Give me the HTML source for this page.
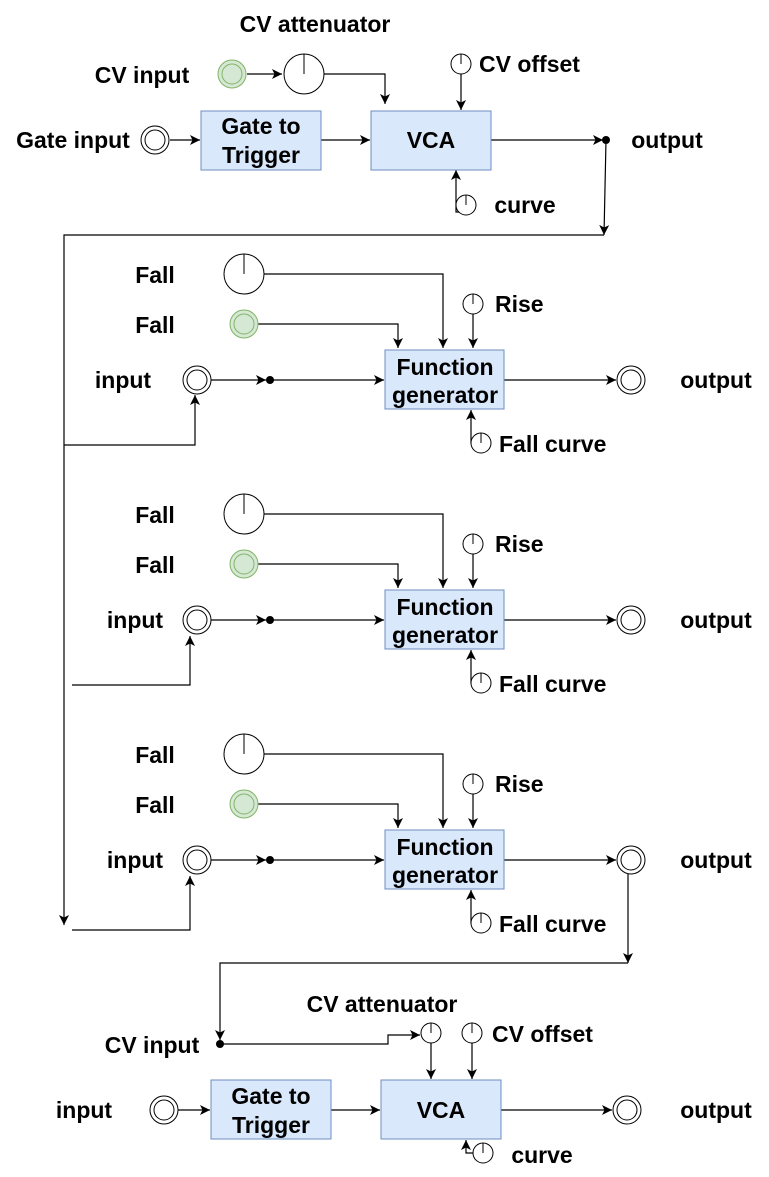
<!DOCTYPE html>
<html><head><meta charset="utf-8"><style>
html,body{margin:0;padding:0;background:#fff}
svg{display:block}
text{font-family:"Liberation Sans",Arial,sans-serif;font-weight:bold;font-size:23px;fill:#000}
</style></head><body>
<svg width="769" height="1177" viewBox="0 0 769 1177" xmlns="http://www.w3.org/2000/svg">
<defs>
<marker id="a" markerWidth="12" markerHeight="12" refX="10" refY="5" orient="auto" markerUnits="userSpaceOnUse">
<path d="M0,0 L10,5 L0,10 L2.5,5 Z" fill="#000"/></marker>
<g id="knobS"><circle r="10" fill="#fff" stroke="#000" stroke-width="1"/><line x1="0" y1="0" x2="0" y2="-10" stroke="#000"/></g>
<g id="knobL"><circle r="20" fill="#fff" stroke="#000" stroke-width="1"/><line x1="0" y1="0" x2="0" y2="-20" stroke="#000"/></g>
<g id="jack"><circle r="14" fill="#fff" stroke="#000"/><circle r="10" fill="#fff" stroke="#000"/></g>
<g id="gjack"><circle r="14" fill="#d5e8d4" stroke="#82b366"/><circle r="10" fill="#d5e8d4" stroke="#82b366"/></g>
</defs>
<g fill="none" stroke="#000" stroke-width="1.2">
<line x1="247" y1="74" x2="282" y2="74" marker-end="url(#a)"/>
<polyline points="324,74 385,74 385,104" marker-end="url(#a)"/>
<line x1="170" y1="140" x2="200" y2="140" marker-end="url(#a)"/>
<line x1="321" y1="140" x2="370" y2="140" marker-end="url(#a)"/>
<line x1="461" y1="74" x2="461" y2="110" marker-end="url(#a)"/>
<polyline points="466,212 456,212 456,170" marker-end="url(#a)"/>
<line x1="491" y1="140" x2="603" y2="140" marker-end="url(#a)"/>
<line x1="606" y1="140" x2="604" y2="235" marker-end="url(#a)"/>
<polyline points="604,235 64,235 64,925" marker-end="url(#a)"/>
<polyline points="64,445 195,445 195,395" marker-end="url(#a)"/>
<polyline points="72,685 190,685 190,636" marker-end="url(#a)"/>
<polyline points="72,930 190,930 190,876" marker-end="url(#a)"/>
<polyline points="628,874 628,963" marker-end="url(#a)"/>
<polyline points="628,963 220,963 220,1040" marker-end="url(#a)"/>
<polyline points="220,1044 388,1044 388,1035 420,1035" marker-end="url(#a)"/>
<line x1="431" y1="1043" x2="431" y2="1079" marker-end="url(#a)"/>
<line x1="472" y1="1043" x2="472" y2="1079" marker-end="url(#a)"/>
<line x1="178" y1="1110" x2="210" y2="1110" marker-end="url(#a)"/>
<line x1="331" y1="1110" x2="380" y2="1110" marker-end="url(#a)"/>
<line x1="501" y1="1110" x2="612" y2="1110" marker-end="url(#a)"/>
<polyline points="483,1153 466,1153 466,1140" marker-end="url(#a)"/>
</g>
<g id="sec">
<g fill="none" stroke="#000" stroke-width="1.2">
<polyline points="264,274 443,274 443,348" marker-end="url(#a)"/>
<polyline points="258,324 398,324 398,348" marker-end="url(#a)"/>
<line x1="473" y1="314" x2="473" y2="348" marker-end="url(#a)"/>
<line x1="211" y1="380" x2="266" y2="380" marker-end="url(#a)"/>
<line x1="270" y1="380" x2="384" y2="380" marker-end="url(#a)"/>
<line x1="504" y1="380" x2="616" y2="380" marker-end="url(#a)"/>
<polyline points="481,443 471,443 471,410" marker-end="url(#a)"/>
</g>
<circle cx="270" cy="380" r="4" fill="#000"/>
<use href="#knobL" x="244" y="274"/>
<use href="#gjack" x="244" y="324"/>
<use href="#knobS" x="473" y="304"/>
<use href="#knobS" x="481" y="443"/>
<use href="#jack" x="197" y="380"/>
<use href="#jack" x="631" y="380"/>
<rect x="385" y="350" width="119" height="59" fill="#dae8fc" stroke="#6c8ebf"/>
<text x="445" y="375" text-anchor="middle">Function</text>
<text x="445" y="403" text-anchor="middle">generator</text>
<text x="155" y="283" text-anchor="middle">Fall</text>
<text x="155" y="333" text-anchor="middle">Fall</text>
<text x="495" y="312">Rise</text>
<text x="716" y="388" text-anchor="middle">output</text>
<text x="499" y="452">Fall curve</text>
</g>
<use href="#sec" x="0" y="240"/>
<use href="#sec" x="0" y="480"/>
<text x="123" y="388" text-anchor="middle">input</text>
<text x="135" y="628" text-anchor="middle">input</text>
<text x="135" y="868" text-anchor="middle">input</text>

<use href="#gjack" x="232" y="74"/>
<use href="#knobL" x="304" y="74"/>
<use href="#jack" x="155" y="140"/>
<use href="#knobS" x="461" y="64"/>
<use href="#knobS" x="466" y="205"/>
<circle cx="606" cy="140" r="4" fill="#000"/>
<rect x="201" y="111" width="120" height="59" fill="#dae8fc" stroke="#6c8ebf"/>
<rect x="371" y="111" width="120" height="59" fill="#dae8fc" stroke="#6c8ebf"/>
<text x="261" y="134" text-anchor="middle">Gate to</text>
<text x="261" y="163" text-anchor="middle">Trigger</text>
<text x="431" y="148" text-anchor="middle">VCA</text>
<text x="315" y="32" text-anchor="middle">CV attenuator</text>
<text x="142" y="83" text-anchor="middle">CV input</text>
<text x="73" y="148" text-anchor="middle">Gate input</text>
<text x="479" y="72">CV offset</text>
<text x="525" y="213" text-anchor="middle">curve</text>
<text x="667" y="148" text-anchor="middle">output</text>

<circle cx="220" cy="1044" r="4" fill="#000"/>
<use href="#knobS" x="431" y="1033"/>
<use href="#knobS" x="472" y="1033"/>
<use href="#jack" x="164" y="1110"/>
<use href="#jack" x="627" y="1110"/>
<use href="#knobS" x="483" y="1153"/>
<rect x="211" y="1080" width="120" height="59" fill="#dae8fc" stroke="#6c8ebf"/>
<rect x="381" y="1080" width="120" height="59" fill="#dae8fc" stroke="#6c8ebf"/>
<text x="271" y="1104" text-anchor="middle">Gate to</text>
<text x="271" y="1133" text-anchor="middle">Trigger</text>
<text x="441" y="1118" text-anchor="middle">VCA</text>
<text x="382" y="1012" text-anchor="middle">CV attenuator</text>
<text x="152" y="1053" text-anchor="middle">CV input</text>
<text x="492" y="1042">CV offset</text>
<text x="84" y="1118" text-anchor="middle">input</text>
<text x="716" y="1118" text-anchor="middle">output</text>
<text x="542" y="1163" text-anchor="middle">curve</text>
</svg>
</body></html>
